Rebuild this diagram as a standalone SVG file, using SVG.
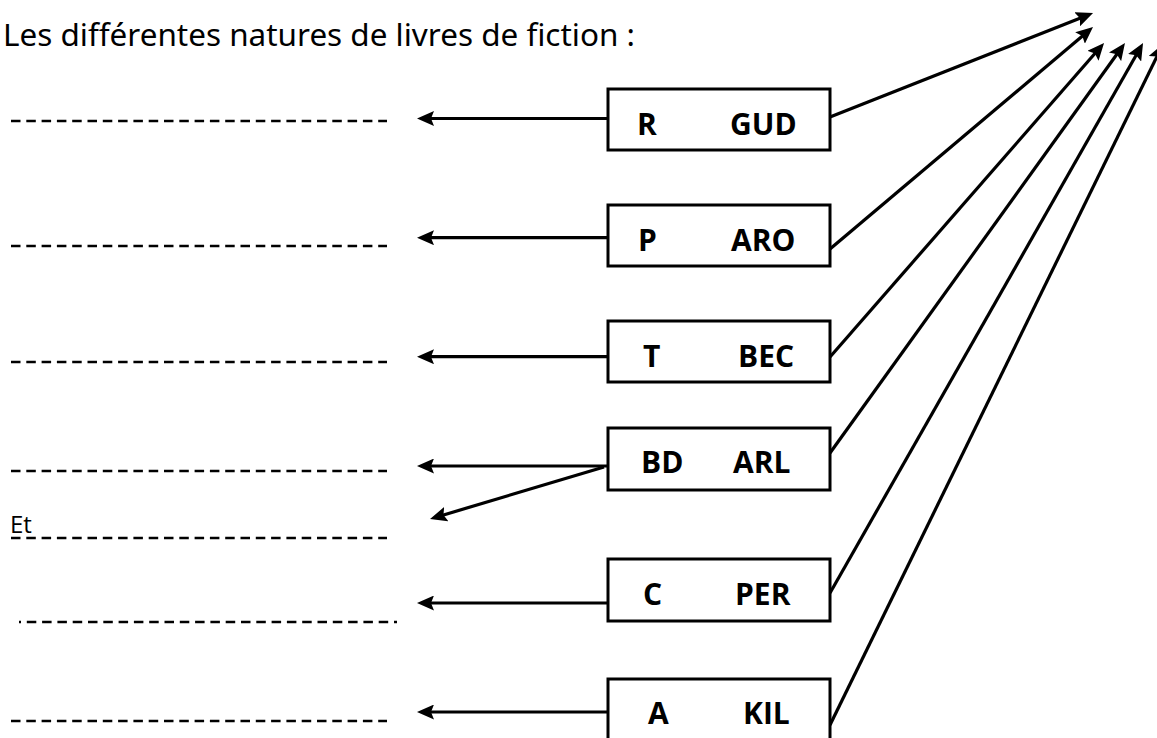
<svg xmlns="http://www.w3.org/2000/svg" width="1157" height="738" viewBox="0 0 1157 738">
<style>
.box{fill:#fff;stroke:#000;stroke-width:3}
.lbl{font-family:"Open Sans","Liberation Sans",sans-serif;font-weight:bold;font-size:30px;fill:#000}
.dash{stroke:#000;stroke-width:2.3;stroke-dasharray:9.5 5.8;fill:none}
.conn{stroke:#000;stroke-width:3.2;fill:none;marker-end:url(#ah)}
.title{font-family:"Noto Sans","DejaVu Sans",sans-serif;font-size:31px;fill:#000}
.et{font-family:"Open Sans","Liberation Sans",sans-serif;font-size:24px;fill:#000}
</style>
<defs>
<marker id="ah" markerUnits="userSpaceOnUse" markerWidth="17" markerHeight="15" viewBox="0 0 17 15" refX="9" refY="7.5" orient="auto">
<path d="M0,0 L17,7.5 L0,15 L3,7.5 Z" fill="#000"/>
</marker>
</defs>
<rect width="1157" height="738" fill="#fff"/>
<text class="title" x="3" y="46" textLength="632" lengthAdjust="spacingAndGlyphs">Les différentes natures de livres de fiction :</text>
<g id="answer-lines">
<line class="dash" x1="11" y1="121" x2="387" y2="121"/>
<line class="dash" x1="11" y1="246" x2="387" y2="246"/>
<line class="dash" x1="11" y1="362" x2="387" y2="362"/>
<line class="dash" x1="11" y1="471" x2="387" y2="471"/>
<line class="dash" x1="11" y1="538" x2="387" y2="538"/>
<line class="dash" x1="19" y1="622" x2="397" y2="622" stroke-dashoffset="7.5"/>
<line class="dash" x1="11" y1="721" x2="387" y2="721"/>
<text class="et" x="10" y="533">Et</text>
</g>
<g id="connectors">
<line class="conn" x1="607" y1="118.5" x2="425" y2="118.5"/>
<line class="conn" x1="607" y1="237.7" x2="425" y2="237.7"/>
<line class="conn" x1="607" y1="356.7" x2="425" y2="356.7"/>
<line class="conn" x1="607" y1="466" x2="425" y2="466"/>
<line class="conn" x1="604" y1="467" x2="437.7" y2="516.7"/>
<line class="conn" x1="607" y1="603" x2="425" y2="603"/>
<line class="conn" x1="607" y1="712" x2="425" y2="712"/>
<line class="conn" x1="830" y1="117" x2="1085.6" y2="16"/>
<line class="conn" x1="830" y1="249" x2="1086.9" y2="32.2"/>
<line class="conn" x1="830" y1="357" x2="1098.8" y2="49"/>
<line class="conn" x1="830" y1="453" x2="1120.3" y2="49.5"/>
<line class="conn" x1="830" y1="593" x2="1139.1" y2="50"/>
<line class="conn" x1="830" y1="725" x2="1159.5" y2="51.2"/>
</g>
<g id="node-r-gud">
<rect class="box" x="608" y="89" width="222" height="61"/>
<text class="lbl" y="135"><tspan x="637">R</tspan><tspan x="730">GUD</tspan></text>
</g>
<g id="node-p-aro">
<rect class="box" x="608" y="205" width="222" height="61"/>
<text class="lbl" y="251"><tspan x="638">P</tspan><tspan x="731">ARO</tspan></text>
</g>
<g id="node-t-bec">
<rect class="box" x="608" y="321" width="222" height="61"/>
<text class="lbl" y="367"><tspan x="643">T</tspan><tspan x="738">BEC</tspan></text>
</g>
<g id="node-bd-arl">
<rect class="box" x="608" y="428" width="222" height="62"/>
<text class="lbl" y="473"><tspan x="641">BD</tspan><tspan x="733">ARL</tspan></text>
</g>
<g id="node-c-per">
<rect class="box" x="608" y="559" width="222" height="62"/>
<text class="lbl" y="605"><tspan x="643">C</tspan><tspan x="735">PER</tspan></text>
</g>
<g id="node-a-kil">
<rect class="box" x="608" y="679" width="222" height="70"/>
<text class="lbl" y="724"><tspan x="648">A</tspan><tspan x="743">KIL</tspan></text>
</g>
</svg>
